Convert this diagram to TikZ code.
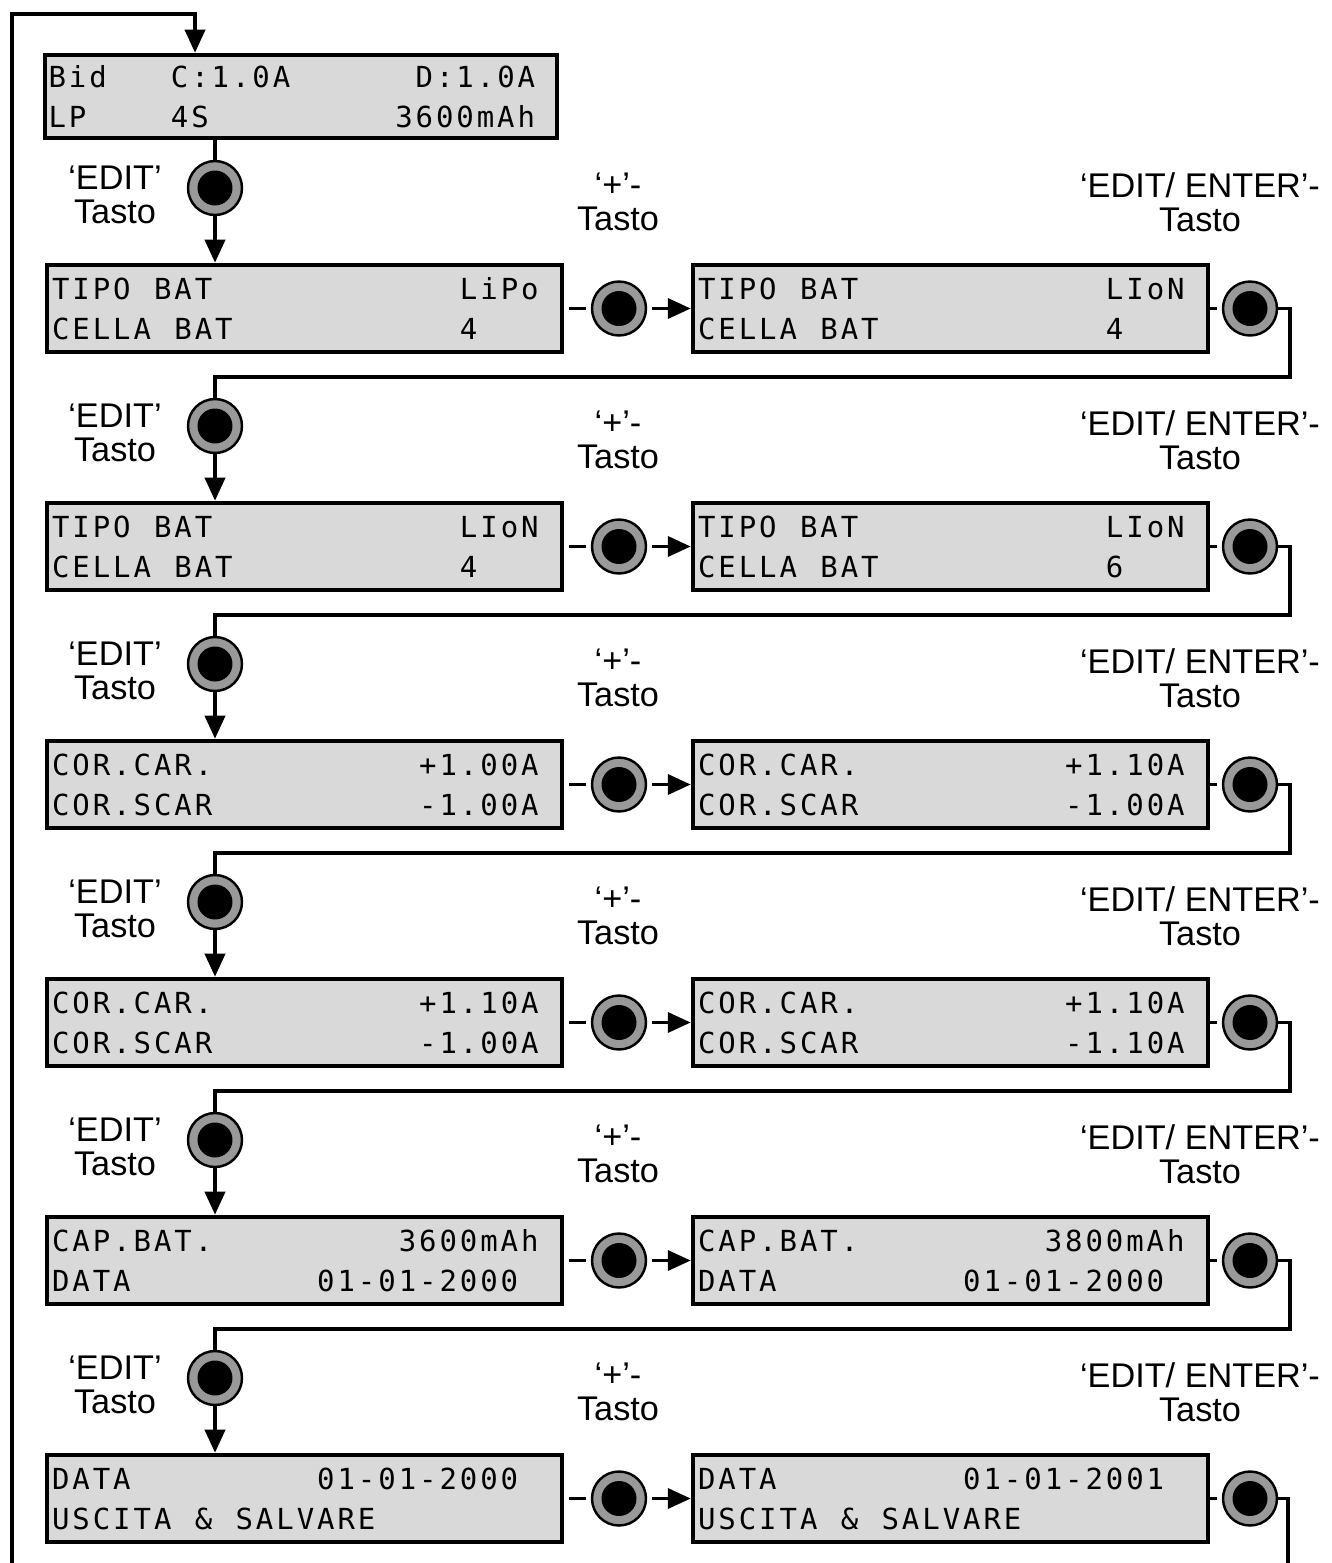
\documentclass[tikz,border=0pt]{standalone}
\usepackage{fontspec}
\setmainfont{Liberation Sans}
\newfontfamily\lcdfont{DejaVu Sans Mono}
\usetikzlibrary{arrows.meta}
\definecolor{lcdgray}{gray}{0.85}
\definecolor{ringgray}{gray}{0.6}
% display text: every character gets one cell, ~ is an empty cell
\newcommand\lcdstop{lcdstop}
\newcommand\lcd[1]{\lcdchar#1\lcdstop}
\def\lcdchar#1{\ifx#1\lcdstop\else\makebox[0.408cm][l]{#1}\expandafter\lcdchar\fi}
\begin{document}
\begin{tikzpicture}[x=0.02cm,y=-0.02cm,
  lcdbox/.style={draw,line width=2.6pt,fill=lcdgray,inner sep=0pt,minimum width=10.3cm,minimum height=1.74cm,
    text width=10.1cm,align=left,font=\lcdfont\fontsize{16.5pt}{22.7pt}\selectfont},
  btn/.style={circle,draw,line width=1.4pt,fill=ringgray,minimum size=1.08cm,inner sep=0pt,
    path picture={\fill[black] (path picture bounding box.center) circle (0.35cm);}},
  lbl/.style={align=center,font=\fontsize{19.5pt}{19.3pt}\selectfont},
  wire/.style={line width=2.1pt},
  arr/.style={wire,-{Triangle[length=0.46cm,width=0.4cm]}}]
\useasboundingbox (0,0) rectangle (1332,1563);

% start screen
\node[lcdbox,minimum width=10.24cm,minimum height=1.66cm] (top) at (301,96.5)
  {\lcd{Bid~~~C:1.0A~~~~~~D:1.0A}\\\lcd{LP~~~~4S~~~~~~~~~3600mAh}};

% keys and captions
\foreach \y [count=\i] in {188,426,664,902,1140,1378}{
  \node[btn] (edit\i) at (215,\y) {};
  \node[lbl] at (115,\y+7) {‘EDIT’\\Tasto};
  \node[btn] (plus\i) at (619,\y+120.5) {};
  \node[btn] (enter\i) at (1250,\y+120.5) {};
  \node[lbl] at (618,\y+14) {‘+’-\\Tasto};
  \node[lbl] at (1200,\y+14) {‘EDIT/ ENTER’-\\Tasto};
}

% screens before / after '+'
\node[lcdbox] (lcdL1) at (304.5,308.5) {\lcd{TIPO~BAT~~~~~~~~~~~~LiPo}\\\lcd{CELLA~BAT~~~~~~~~~~~4}};
\node[lcdbox] (lcdR1) at (950.5,308.5) {\lcd{TIPO~BAT~~~~~~~~~~~~LIoN}\\\lcd{CELLA~BAT~~~~~~~~~~~4}};
\node[lcdbox] (lcdL2) at (304.5,546.5) {\lcd{TIPO~BAT~~~~~~~~~~~~LIoN}\\\lcd{CELLA~BAT~~~~~~~~~~~4}};
\node[lcdbox] (lcdR2) at (950.5,546.5) {\lcd{TIPO~BAT~~~~~~~~~~~~LIoN}\\\lcd{CELLA~BAT~~~~~~~~~~~6}};
\node[lcdbox] (lcdL3) at (304.5,784.5) {\lcd{COR.CAR.~~~~~~~~~~+1.00A}\\\lcd{COR.SCAR~~~~~~~~~~-1.00A}};
\node[lcdbox] (lcdR3) at (950.5,784.5) {\lcd{COR.CAR.~~~~~~~~~~+1.10A}\\\lcd{COR.SCAR~~~~~~~~~~-1.00A}};
\node[lcdbox] (lcdL4) at (304.5,1022.5) {\lcd{COR.CAR.~~~~~~~~~~+1.10A}\\\lcd{COR.SCAR~~~~~~~~~~-1.00A}};
\node[lcdbox] (lcdR4) at (950.5,1022.5) {\lcd{COR.CAR.~~~~~~~~~~+1.10A}\\\lcd{COR.SCAR~~~~~~~~~~-1.10A}};
\node[lcdbox] (lcdL5) at (304.5,1260.5) {\lcd{CAP.BAT.~~~~~~~~~3600mAh}\\\lcd{DATA~~~~~~~~~01-01-2000}};
\node[lcdbox] (lcdR5) at (950.5,1260.5) {\lcd{CAP.BAT.~~~~~~~~~3800mAh}\\\lcd{DATA~~~~~~~~~01-01-2000}};
\node[lcdbox] (lcdL6) at (304.5,1498.5) {\lcd{DATA~~~~~~~~~01-01-2000}\\\lcd{USCITA~\&~SALVARE}};
\node[lcdbox] (lcdR6) at (950.5,1498.5) {\lcd{DATA~~~~~~~~~01-01-2001}\\\lcd{USCITA~\&~SALVARE}};

% wiring
\coordinate (loopend) at (12,1563);
\coordinate (exitend) at (1288,1563);
\draw[arr] (loopend) -- (12,14) -| ([xshift=-2.12cm]top.north);
\draw[wire] (top.south -| edit1) -- (edit1);
\foreach \i in {1,...,6}{
  \draw[arr] (edit\i) -- (edit\i |- lcdL\i.north);
  \draw[wire,shorten <=0.1cm,shorten >=0.1cm] (lcdL\i) -- (plus\i);
  \draw[arr,shorten <=0.1cm] (plus\i) -- (lcdR\i);
  \draw[wire,shorten >=0.1cm] (lcdR\i) -- (enter\i);
}
\foreach \i [count=\j from 2] in {1,...,5}
  \draw[wire] (enter\i.east) -- ++(12,0) |- ([yshift=0.42cm]edit\j.north) -- (edit\j);
\draw[wire] (enter6.east) -| (exitend);
\end{tikzpicture}
\end{document}
